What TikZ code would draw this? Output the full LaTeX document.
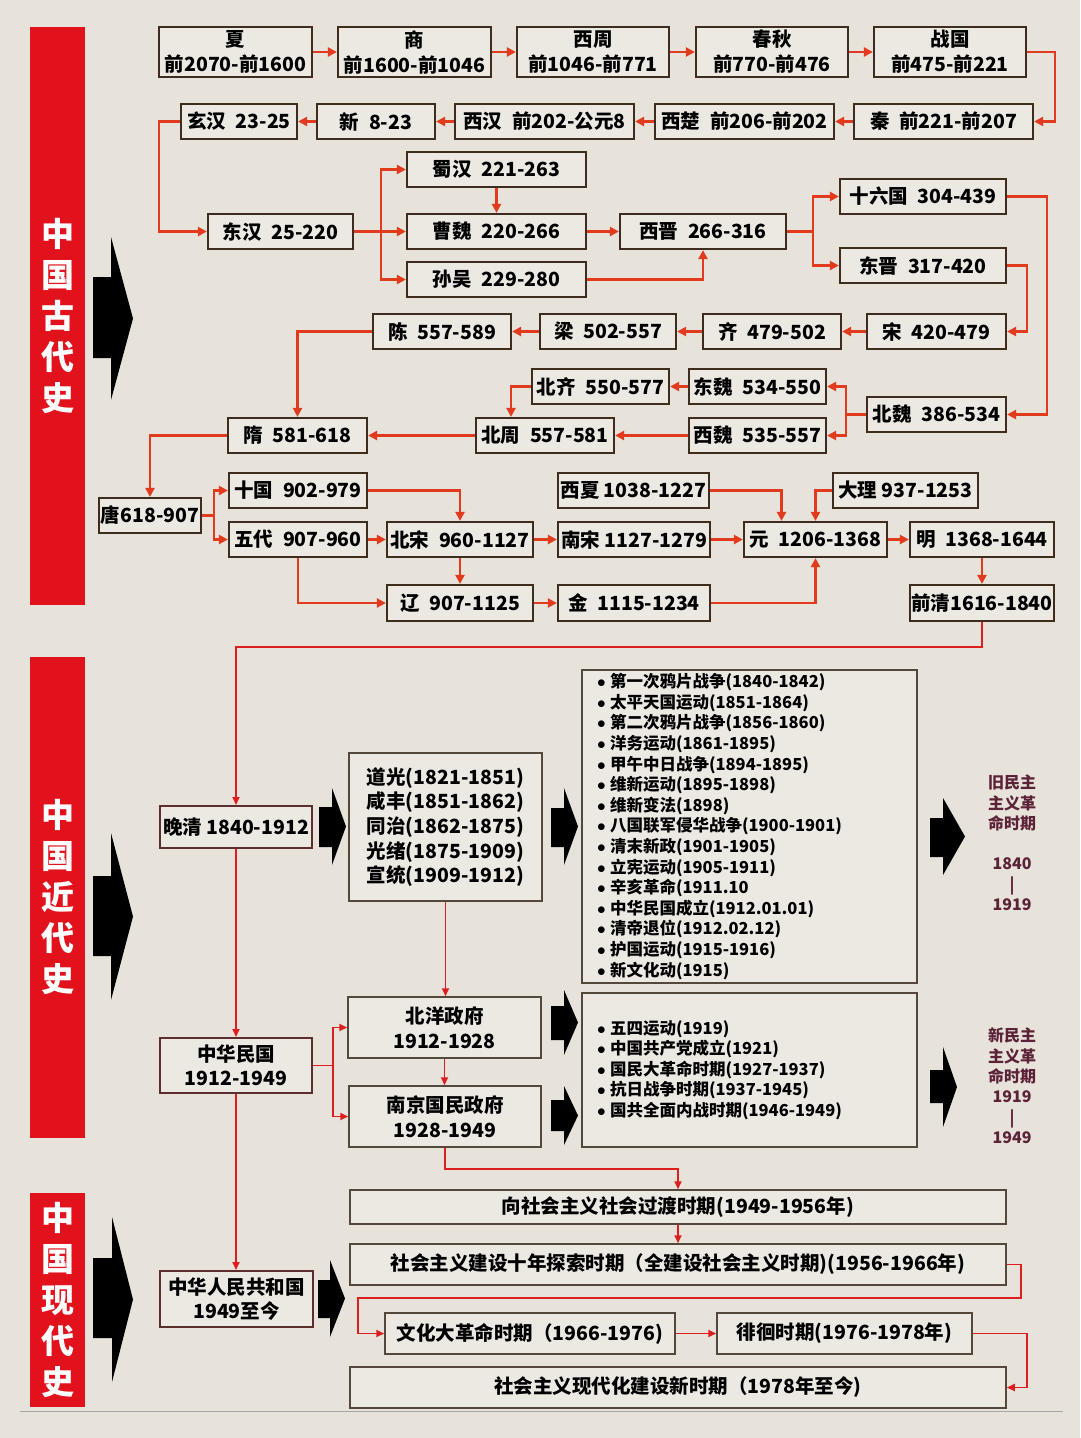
\documentclass[tikz,border=0pt]{standalone}
\usepackage{fontspec}
\setmainfont{Noto Sans CJK SC}
\newfontfamily\cjk{Noto Sans CJK SC}
\usetikzlibrary{arrows.meta, calc}
\definecolor{paper}{RGB}{231,227,219}
\definecolor{boxfill}{RGB}{236,233,226}
\definecolor{barred}{RGB}{226,18,28}
\definecolor{boxline}{RGB}{62,44,30}
\definecolor{linkred}{RGB}{226,58,28}
\definecolor{thinred}{RGB}{222,30,30}
\definecolor{greyline}{RGB}{84,72,60}
\definecolor{wine}{RGB}{92,34,56}
\definecolor{rimred}{RGB}{92,46,46}
\newcommand\bul{\makebox[13pt][l]{$\bullet$}}
\tikzset{
  era/.style={draw=boxline, line width=2.2pt, fill=boxfill, inner sep=0pt, align=center, font=\cjk\bfseries\fontsize{19.5}{25}\selectfont},
  statebox/.style={draw=rimred, line width=2pt, fill=boxfill, inner sep=0pt, align=center, font=\cjk\bfseries\fontsize{19.5}{24}\selectfont},
  reignbox/.style={draw=greyline, line width=1.5pt, fill=boxfill, inner sep=0pt, align=center, font=\cjk\bfseries\fontsize{19.5}{24.7}\selectfont},
  listbox/.style={draw=greyline, line width=1.5pt, fill=boxfill, inner xsep=15pt, inner ysep=0pt, align=left, font=\cjk\bfseries\fontsize{16.5}{20.6}\selectfont},
  ageband/.style={fill=barred, text=white, minimum width=55, inner sep=0pt, align=center, font=\cjk\bfseries\fontsize{33}{41}\selectfont},
  sidenote/.style={text=wine, align=center, font=\cjk\bfseries\fontsize{16}{20.4}\selectfont},
  link/.style={draw=linkred, line width=2.4pt, -{Triangle[length=9pt,width=9pt]}},
  rline/.style={draw=thinred, line width=1.8pt, -{Triangle[length=8pt,width=7pt]}},
}
\begin{document}
\begin{tikzpicture}[x=1pt, y=-1pt]
  \useasboundingbox (0,0) rectangle (1080,1438);
  \fill[paper] (0,0) rectangle (1080,1438);
  % period bands
  \node[ageband, minimum height=578] (ancient) at (57.5,316) {中\\国\\古\\代\\史};
  \node[ageband, minimum height=481] (modern) at (57.5,897.5) {中\\国\\近\\代\\史};
  \node[ageband, minimum height=214] (current) at (57.5,1300) {中\\国\\现\\代\\史};
  % black pointers
  \foreach \ax/\bx/\cx/\yt/\ybt/\ybb/\yb in {93/111/133/237/277/358/400, 93/111/133/833/876/956/1000,
      93/112/133/1217/1258/1338/1382, 319/332/346/788/807/847/865, 551/564/578/788/808/847/865,
      551/564/578/990/1006/1040/1055, 551/564/578/1086/1100/1131/1145, 930/943/965/798/818/857/875,
      930/943/957/1047/1070/1103/1127, 318/330/345/1260/1280/1318/1337} {
    \fill[black] (\ax,\ybt) -- (\bx,\ybt) -- (\bx,\yt) -- (\cx,{(\yt+\yb)/2}) -- (\bx,\yb) -- (\bx,\ybb) -- (\ax,\ybb) -- cycle;
  }
  % dynasties
  \foreach \nm/\ax/\ay/\bx/\by/\txt in {
      xia/159/27/312/77/{夏\\前2070-前1600}, shang/338/27/491/77/{商\\前1600-前1046},
      xizhou/517/27/669/77/{西周\\前1046-前771}, chunqiu/696/27/848/77/{春秋\\前770-前476},
      zhanguo/874/27/1026/77/{战国\\前475-前221},
      qin/854/104/1033/139/{秦\enspace 前221-前207}, xichu/655/104/834/139/{西楚\enspace 前206-前202},
      xihan/455/104/634/139/{西汉\enspace 前202-公元8}, xin/317/104/435/139/{新\enspace 8-23},
      xuanhan/181/104/297/139/{玄汉\enspace 23-25}, donghan/208/214/353/249/{东汉\enspace 25-220},
      shuhan/407/152/586/187/{蜀汉\enspace 221-263}, caowei/407/214/586/249/{曹魏\enspace 220-266},
      sunwu/407/262/586/297/{孙吴\enspace 229-280}, xijin/620/214/786/249/{西晋\enspace 266-316},
      shiliuguo/840/179/1006/214/{十六国\enspace 304-439}, dongjin/840/248/1006/283/{东晋\enspace 317-420},
      song/867/314/1006/349/{宋\enspace 420-479}, qi/703/314/841/349/{齐\enspace 479-502},
      liang/540/314/676/349/{梁\enspace 502-557}, chen/373/314/511/349/{陈\enspace 557-589},
      beiwei/867/397/1006/432/{北魏\enspace 386-534}, dongwei/689/369/826/404/{东魏\enspace 534-550},
      beiqi/532/369/669/404/{北齐\enspace 550-577}, xiwei/689/418/826/453/{西魏\enspace 535-557},
      beizhou/476/418/614/453/{北周\enspace 557-581}, sui/228/418/367/453/{隋\enspace 581-618},
      tang/99/498/201/533/{唐618-907}, shiguo/229/473/367/508/{十国\enspace 902-979},
      wudai/229/522/367/557/{五代\enspace 907-960}, beisong/387/522/533/557/{北宋\enspace 960-1127},
      liao/387/585/533/621/{辽\enspace 907-1125}, xixia/558/473/709/508/{西夏 1038-1227},
      nansong/558/522/710/557/{南宋 1127-1279}, jin/558/585/710/621/{金\enspace 1115-1234},
      yuan/744/522/887/557/{元\enspace 1206-1368}, dali/833/473/978/508/{大理 937-1253},
      ming/910/522/1054/557/{明\enspace 1368-1644}, qianqing/910/585/1054/621/{前清1616-1840}} {
    \node[era, minimum width={\bx-\ax}, minimum height={\by-\ay}] (\nm) at ({(\ax+\bx)/2},{(\ay+\by)/2}) {\txt};
  }
  % ancient links
  \foreach \a/\b in {xia/shang, shang/xizhou, xizhou/chunqiu, chunqiu/zhanguo, donghan/caowei, caowei/xijin,
      wudai/beisong, beisong/nansong, liao/jin, nansong/yuan, yuan/ming}
    \draw[link] (\a.east) -- (\b.west);
  \foreach \a/\b in {qin/xichu, xichu/xihan, xihan/xin, xin/xuanhan, song/qi, qi/liang, liang/chen,
      dongwei/beiqi, xiwei/beizhou, beizhou/sui}
    \draw[link] (\a.west) -- (\b.east);
  \draw[link] (zhanguo.east) -- ++(28,0) |- (qin.east);
  \draw[link] (xuanhan.west) -- ++(-21,0) |- (donghan.west);
  \draw[link] (donghan.east) -- ++(27,0) |- (shuhan.west);
  \draw[link] (donghan.east) -- ++(27,0) |- (sunwu.west);
  \draw[link] (shuhan.south) -- (caowei.north);
  \draw[link] (sunwu.east) -| (xijin.south);
  \draw[link] (xijin.east) -- ++(26,0) |- (shiliuguo.west);
  \draw[link] (xijin.east) -- ++(26,0) |- (dongjin.west);
  \draw[link] (dongjin.east) -- ++(20,0) |- (song.east);
  \draw[link] (shiliuguo.east) -- ++(40,0) |- (beiwei.east);
  \draw[link] (beiwei.west) -- ++(-20,0) |- (dongwei.east);
  \draw[link] (beiwei.west) -- ++(-20,0) |- (xiwei.east);
  \draw[link] (chen.west) -| (sui.north);
  \draw[link] (beiqi.west) -| ([xshift=-34pt]beizhou.north);
  \draw[link] (sui.west) -| (tang.north);
  \draw[link] (tang.east) -- ++(12,0) |- (shiguo.west);
  \draw[link] (tang.east) -- ++(12,0) |- (wudai.west);
  \draw[link] (shiguo.east) -| (beisong.north);
  \draw[link] (beisong.south) -- (liao.north);
  \draw[link] (wudai.south) |- (liao.west);
  \draw[link] (xixia.east) -| ([xshift=-34pt]yuan.north);
  \draw[link] (dali.west) -| (yuan.north);
  \draw[link] (jin.east) -| (yuan.south);
  \draw[link] (ming.south) -- (qianqing.north);
  % modern
  \node[statebox, minimum width=152, minimum height=42] (wanqing) at (236,827) {晚清 1840-1912};
  \node[statebox, minimum width=152, minimum height=55] (minguo) at (236,1065.5) {中华民国\\1912-1949};
  \node[statebox, minimum width=153, minimum height=56] (prc) at (236.5,1299) {中华人民共和国\\1949至今};
  \node[reignbox, align=left, minimum width=193, minimum height=148] (reigns) at (445.5,827)
    {道光(1821-1851)\\咸丰(1851-1862)\\同治(1862-1875)\\光绪(1875-1909)\\宣统(1909-1912)};
  \node[reignbox, minimum width=193, minimum height=61] (beiyang) at (444.5,1027.5) {北洋政府\\1912-1928};
  \node[reignbox, minimum width=192, minimum height=61] (nanjing) at (445,1116.5) {南京国民政府\\1928-1949};
  \node[listbox, text width=305, minimum height=313] (events1) at (749.5,826.5)
    {\bul 第一次鸦片战争(1840-1842)\\\bul 太平天国运动(1851-1864)\\\bul 第二次鸦片战争(1856-1860)\\
     \bul 洋务运动(1861-1895)\\\bul 甲午中日战争(1894-1895)\\\bul 维新运动(1895-1898)\\
     \bul 维新变法(1898)\\\bul 八国联军侵华战争(1900-1901)\\\bul 清末新政(1901-1905)\\
     \bul 立宪运动(1905-1911)\\\bul 辛亥革命(1911.10\\\bul 中华民国成立(1912.01.01)\\
     \bul 清帝退位(1912.02.12)\\\bul 护国运动(1915-1916)\\\bul 新文化动(1915)};
  \node[listbox, text width=305, minimum height=154] (events2) at (749.5,1070)
    {\bul 五四运动(1919)\\\bul 中国共产党成立(1921)\\\bul 国民大革命时期(1927-1937)\\
     \bul 抗日战争时期(1937-1945)\\\bul 国共全面内战时期(1946-1949)};
  \node[sidenote] (oldrev) at (1012,843) {旧民主\\主义革\\命时期\\[20pt]1840\\|\\1919};
  \node[sidenote] (newrev) at (1012,1086) {新民主\\主义革\\命时期\\1919\\|\\1949};
  % contemporary
  \node[reignbox, minimum width=656, minimum height=34] (transit) at (678,1207) {向社会主义社会过渡时期(1949-1956年)};
  \node[reignbox, minimum width=656, minimum height=41] (explore) at (678,1264.5) {社会主义建设十年探索时期（全建设社会主义时期)(1956-1966年)};
  \node[reignbox, minimum width=290, minimum height=41] (culture) at (530,1333.5) {文化大革命时期（1966-1976)};
  \node[reignbox, minimum width=255, minimum height=41] (wander) at (844.5,1333.5) {徘徊时期(1976-1978年)};
  \node[reignbox, minimum width=656, minimum height=41] (newera) at (678,1387.5) {社会主义现代化建设新时期（1978年至今)};
  \draw[gray!70, line width=0.8pt] (20,1411) -- (1063,1411);
  % modern links
  \draw[rline] (qianqing.south) -- ++(0,25) -| (wanqing.north);
  \draw[rline] (wanqing.south) -- (minguo.north);
  \draw[rline] (minguo.south) -- (minguo.south |- prc.north);
  \draw[rline] (minguo.east) -- ++(20,0) |- (beiyang.west);
  \draw[rline] (minguo.east) -- ++(20,0) |- (nanjing.west);
  \draw[rline] (reigns.south) -- (reigns.south |- beiyang.north);
  \draw[rline] (beiyang.south) -- (beiyang.south |- nanjing.north);
  \draw[rline] (nanjing.south) -- ++(0,21) -| (transit.north);
  \draw[rline] (transit.south) -- (explore.north);
  \draw[rline] (explore.east) -- ++(14,0) -- ++(0,33.5) -| ([xshift=-26pt]culture.west) -- (culture.west);
  \draw[rline] (culture.east) -- (wander.west);
  \draw[rline] (wander.east) -- ++(54,0) |- (newera.east);
\end{tikzpicture}
\end{document}
